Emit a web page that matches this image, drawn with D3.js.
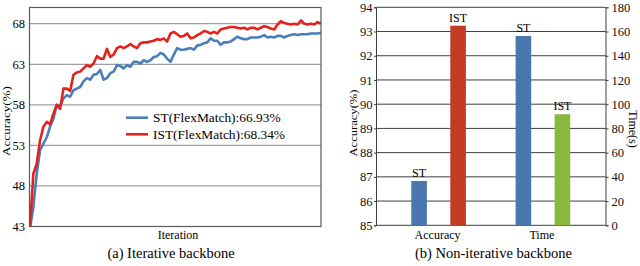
<!DOCTYPE html>
<html>
<head>
<meta charset="utf-8">
<script src="https://cdn.jsdelivr.net/npm/d3@7"></script>
<style>
  body { margin: 0; background: #fff; }
</style>
</head>
<body>
<div id="chart"></div>
<script>
// (a) iterative backbone: accuracy per evaluation step
const stFlex = [42.8, 45.4, 49.5, 52.4, 53.2, 54.0, 55.3, 56.3, 58.0, 57.8,
  58.8, 59.2, 59.0, 59.8, 60.0, 60.2, 60.9, 61.3, 61.1, 61.7,
  61.8, 62.3, 61.1, 61.3, 61.9, 62.1, 62.9, 62.8, 62.5, 62.9,
  62.7, 63.3, 63.3, 63.1, 63.5, 63.3, 63.5, 63.9, 64.0, 64.4,
  64.2, 63.7, 63.3, 64.2, 65.0, 64.8, 64.8, 64.9, 65.0, 64.8,
  65.3, 65.4, 65.6, 65.7, 66.2, 65.9, 65.9, 65.4, 65.7, 65.7,
  65.8, 66.1, 66.4, 66.2, 66.1, 66.1, 66.3, 66.3, 66.3, 66.4,
  66.6, 66.3, 66.4, 66.3, 66.5, 66.5, 66.3, 66.5, 66.6, 66.7,
  66.6, 66.7, 66.7, 66.7, 66.8, 66.8, 66.8, 66.9]
const istFlex = [43.0, 49.5, 50.7, 53.6, 55.3, 55.9, 55.6, 56.9, 58.0, 57.5,
  60.0, 60.0, 59.7, 61.7, 62.0, 62.1, 62.5, 62.9, 62.7, 63.1,
  64.0, 63.7, 63.7, 64.9, 63.9, 64.2, 65.0, 65.2, 65.0, 65.2,
  65.5, 65.2, 65.0, 65.6, 65.7, 65.7, 65.8, 65.9, 66.1, 66.0,
  66.2, 65.8, 66.8, 67.0, 66.7, 66.4, 66.5, 66.8, 66.2, 66.3,
  66.6, 66.8, 67.1, 67.0, 66.8, 67.0, 66.8, 67.3, 67.4, 67.5,
  67.6, 67.6, 67.5, 67.4, 67.5, 67.3, 67.5, 67.5, 67.3, 67.5,
  67.7, 67.6, 67.4, 67.3, 67.9, 68.3, 68.1, 68.0, 67.9, 68.0,
  67.9, 68.4, 68.0, 67.9, 68.0, 67.9, 68.2, 68.0]
const lineSeries = [
  {name: "ST(FlexMatch):66.93%", values: stFlex, color: "#4a7ebb"},
  {name: "IST(FlexMatch):68.34%", values: istFlex, color: "#e3221c"}
]
const accTicks = [43, 48, 53, 58, 63, 68]

// (b) non-iterative backbone
const groups = ["Accuracy", "Time"]
const methods = ["ST", "IST"]
const accValues = [86.83, 93.24]
const timeValues = [156.3, 91.7]
const leftTicks = [85, 86, 87, 88, 89, 90, 91, 92, 93, 94]
const rightTicks = [0, 20, 40, 60, 80, 100, 120, 140, 160, 180]

const width = 640
const height = 266
const font = "'Liberation Serif', 'DejaVu Serif', serif"

const svg = d3.select("#chart").append("svg")
  .attr("width", width)
  .attr("height", height)
  .attr("font-family", font)
  .style("font-family", font)

// ---------- left chart ----------
const a = {left: 29.5, right: 321, top: 7.5, bottom: 226.5}
const left = svg.append("g")

const xLine = d3.scaleLinear()
  .domain([0, stFlex.length - 1])
  .range([a.left + 0.5, a.right])
const yLine = d3.scaleLinear()
  .domain([43, 70])
  .range([a.bottom, a.top])

left.selectAll(".grid")
  .data(accTicks.slice(1))
  .enter()
  .append("line")
    .attr("x1", a.left)
    .attr("x2", a.right)
    .attr("y1", d => yLine(d))
    .attr("y2", d => yLine(d))
    .attr("stroke", "#a0a0a0")
    .attr("stroke-width", 1.2)

left.append("clipPath")
    .attr("id", "clipA")
  .append("rect")
    .attr("x", a.left)
    .attr("y", a.top)
    .attr("width", a.right - a.left)
    .attr("height", a.bottom - a.top)

const line = d3.line()
  .x((d, i) => xLine(i))
  .y(d => yLine(d))

left.append("g")
    .attr("clip-path", "url(#clipA)")
  .selectAll("path")
  .data(lineSeries)
  .enter()
  .append("path")
    .attr("d", d => line(d.values))
    .attr("fill", "none")
    .attr("stroke", d => d.color)
    .attr("stroke-width", 2.6)
    .attr("stroke-linejoin", "round")

left.append("rect")
    .attr("x", a.left)
    .attr("y", a.top)
    .attr("width", a.right - a.left)
    .attr("height", a.bottom - a.top)
    .attr("fill", "none")
    .attr("stroke", "#595959")
    .attr("stroke-width", 1.2)

left.selectAll(".ytick")
  .data(accTicks)
  .enter()
  .append("text")
    .attr("x", 25)
    .attr("y", d => yLine(d))
    .attr("dy", "0.35em")
    .attr("text-anchor", "end")
    .attr("font-size", 12.5)
    .text(d => d)

const legend = left.selectAll(".legend")
  .data(lineSeries)
  .enter()
  .append("g")
    .attr("transform", (d, i) => `translate(126,${117.7 + i * 16.6})`)
legend.append("line")
    .attr("x1", 0)
    .attr("x2", 22)
    .attr("stroke", d => d.color)
    .attr("stroke-width", 2.6)
legend.append("text")
    .attr("x", 27)
    .attr("dy", "0.35em")
    .attr("font-size", 13.4)
    .text(d => d.name)

left.append("text")
    .attr("x", 178)
    .attr("y", 239)
    .attr("text-anchor", "middle")
    .attr("font-size", 12)
    .text("Iteration")

left.append("text")
    .attr("transform", "translate(9.5,121) rotate(-90)")
    .attr("text-anchor", "middle")
    .attr("font-size", 11)
    .attr("textLength", 70)
    .attr("lengthAdjust", "spacingAndGlyphs")
    .text("Accuracy(%)")

left.append("text")
    .attr("x", 171)
    .attr("y", 258)
    .attr("text-anchor", "middle")
    .attr("font-size", 14.5)
    .text("(a) Iterative backbone")

// ---------- right chart ----------
const b = {left: 376, right: 605.5, top: 7.3, bottom: 225.3}
const right = svg.append("g")

const xGroup = d3.scalePoint()
  .domain(groups)
  .range([b.left, b.right])
  .padding(0.6)
const xMethod = d3.scaleBand()
  .domain(methods)
  .range([-39, 39])
  .paddingInner(0.6)
  .paddingOuter(0.3)
const yAcc = d3.scaleLinear()
  .domain([85, 94])
  .range([b.bottom, b.top])
const yTime = d3.scaleLinear()
  .domain([0, 180])
  .range([b.bottom, b.top])

right.selectAll(".grid")
  .data(leftTicks)
  .enter()
  .append("line")
    .attr("x1", b.left)
    .attr("x2", b.right)
    .attr("y1", d => yAcc(d))
    .attr("y2", d => yAcc(d))
    .attr("stroke", "#3f3f3f")
    .attr("stroke-width", 1)

const styleAxis = g => {
  g.attr("font-family", font)
  g.selectAll("text").attr("font-size", 12.6).attr("fill", "#111")
  g.selectAll("line, path").attr("stroke", "#3f3f3f")
}

const leftAxis = d3.axisLeft(yAcc)
  .tickValues(leftTicks)
  .tickSize(2)
  .tickPadding(1.5)
right.append("g")
    .attr("transform", `translate(${b.left},0)`)
    .call(leftAxis)
    .call(styleAxis)

const rightAxis = d3.axisRight(yTime)
  .tickValues(rightTicks)
  .tickSize(3)
  .tickPadding(3)
right.append("g")
    .attr("transform", `translate(${b.right},0)`)
    .call(rightAxis)
    .call(styleAxis)

const bars = [
  {group: "Accuracy", method: "ST", value: accValues[0], scale: yAcc, color: "#4a76b0"},
  {group: "Accuracy", method: "IST", value: accValues[1], scale: yAcc, color: "#c33b22"},
  {group: "Time", method: "ST", value: timeValues[0], scale: yTime, color: "#4a76b0"},
  {group: "Time", method: "IST", value: timeValues[1], scale: yTime, color: "#88b93c"}
]

right.selectAll(".bar")
  .data(bars)
  .enter()
  .append("rect")
    .attr("x", d => xGroup(d.group) + xMethod(d.method))
    .attr("y", d => d.scale(d.value))
    .attr("width", xMethod.bandwidth())
    .attr("height", d => b.bottom - d.scale(d.value))
    .attr("fill", d => d.color)

right.selectAll(".barlabel")
  .data(bars)
  .enter()
  .append("text")
    .attr("x", d => xGroup(d.group) + xMethod(d.method) + xMethod.bandwidth() / 2)
    .attr("y", d => d.scale(d.value) - 4)
    .attr("text-anchor", "middle")
    .attr("font-size", 12)
    .text(d => d.method)

right.selectAll(".cat")
  .data(groups)
  .enter()
  .append("text")
    .attr("x", d => xGroup(d) - 1)
    .attr("y", 239)
    .attr("text-anchor", "middle")
    .attr("font-size", 12)
    .text(d => d)

right.append("text")
    .attr("transform", "translate(357,123) rotate(-90)")
    .attr("text-anchor", "middle")
    .attr("font-size", 11)
    .attr("textLength", 67)
    .attr("lengthAdjust", "spacingAndGlyphs")
    .text("Accuracy(%)")

right.append("text")
    .attr("transform", "translate(628.5,129) rotate(90)")
    .attr("text-anchor", "middle")
    .attr("font-size", 12)
    .text("Time(s)")

right.append("text")
    .attr("x", 493.5)
    .attr("y", 258)
    .attr("text-anchor", "middle")
    .attr("font-size", 14.5)
    .text("(b) Non-iterative backbone")
</script>
</body>
</html>
